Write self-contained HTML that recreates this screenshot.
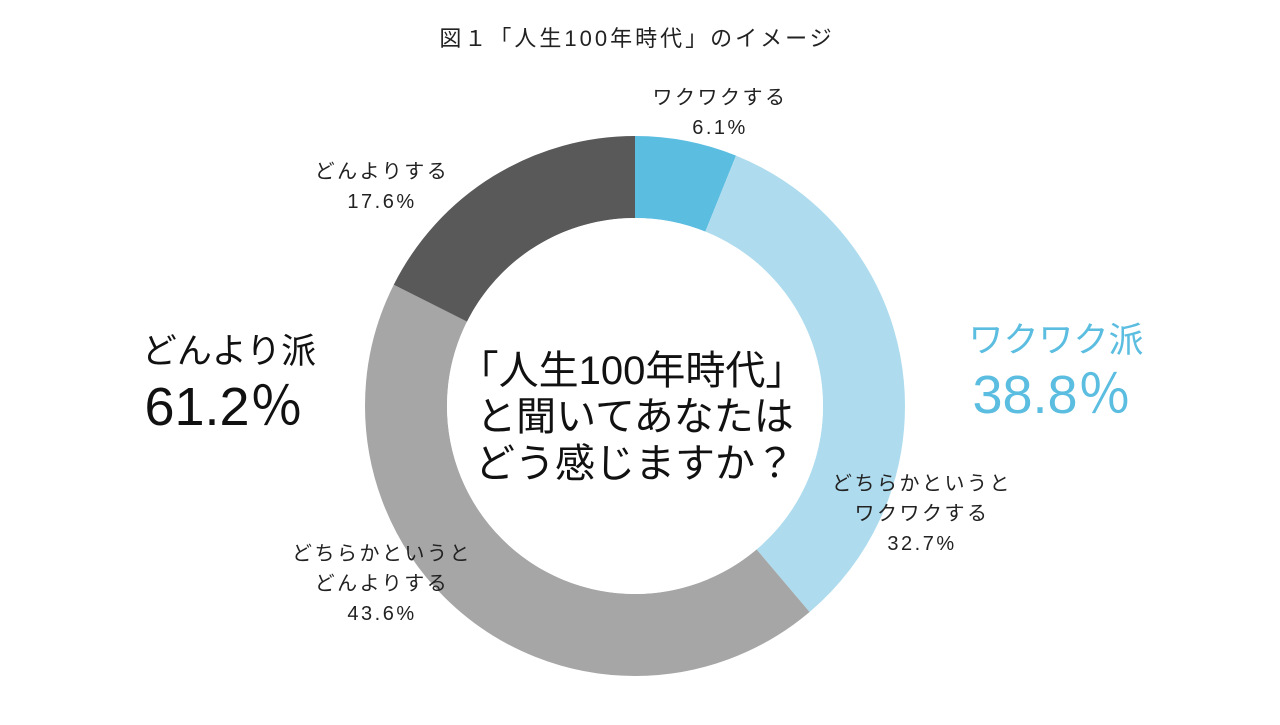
<!DOCTYPE html>
<html><head><meta charset="utf-8"><style>
body{margin:0;width:1280px;height:720px;background:#fff;overflow:hidden;font-family:"Liberation Sans","Noto Sans CJK JP",sans-serif;}
</style></head><body>
<svg width="1280" height="720" xmlns="http://www.w3.org/2000/svg" style="font-family:'Liberation Sans','Noto Sans CJK JP',sans-serif">
<g transform="rotate(-90 635 406)" fill="none" stroke-width="82">
<circle cx="635" cy="406" r="229" stroke="#5bbde0" stroke-dasharray="87.8 2000" stroke-dashoffset="0"/>
<circle cx="635" cy="406" r="229" stroke="#aedcee" stroke-dasharray="470.5 2000" stroke-dashoffset="-87.8"/>
<circle cx="635" cy="406" r="229" stroke="#a6a6a6" stroke-dasharray="627.3 2000" stroke-dashoffset="-558.3"/>
<circle cx="635" cy="406" r="229" stroke="#595959" stroke-dasharray="253.2 2000" stroke-dashoffset="-1185.6"/>
</g>
<circle cx="635" cy="406" r="188" fill="#fff"/>
<text x="637" y="46" font-size="22" letter-spacing="3" text-anchor="middle" fill="#222">図１「人生100年時代」のイメージ</text>
<g font-size="20" letter-spacing="2.5" fill="#222" text-anchor="middle">
<text x="720" y="104">ワクワクする</text><text x="720" y="134">6.1%</text>
<text x="382" y="178">どんよりする</text><text x="382" y="208">17.6%</text>
<text x="922" y="490">どちらかというと</text><text x="922" y="520">ワクワクする</text><text x="922" y="550">32.7%</text>
<text x="382" y="560">どちらかというと</text><text x="382" y="590">どんよりする</text><text x="382" y="620">43.6%</text>
</g>
<g font-size="40" fill="#111" text-anchor="middle">
<text x="632" y="384">「人生100年時代」</text>
<text x="635" y="430">と聞いてあなたは</text>
<text x="635" y="477">どう感じますか？</text>
</g>
<text x="229" y="363" font-size="35" fill="#111" text-anchor="middle">どんより派</text>
<text x="224" y="425" font-size="54" fill="#111" text-anchor="middle">61.2<tspan font-family="Noto Sans CJK JP, sans-serif">％</tspan></text>
<text x="1056" y="352" font-size="35" fill="#5bbde0" text-anchor="middle">ワクワク派</text>
<text x="1052" y="413" font-size="54" fill="#5bbde0" text-anchor="middle">38.8<tspan font-family="Noto Sans CJK JP, sans-serif">％</tspan></text>
</svg>
</body></html>
